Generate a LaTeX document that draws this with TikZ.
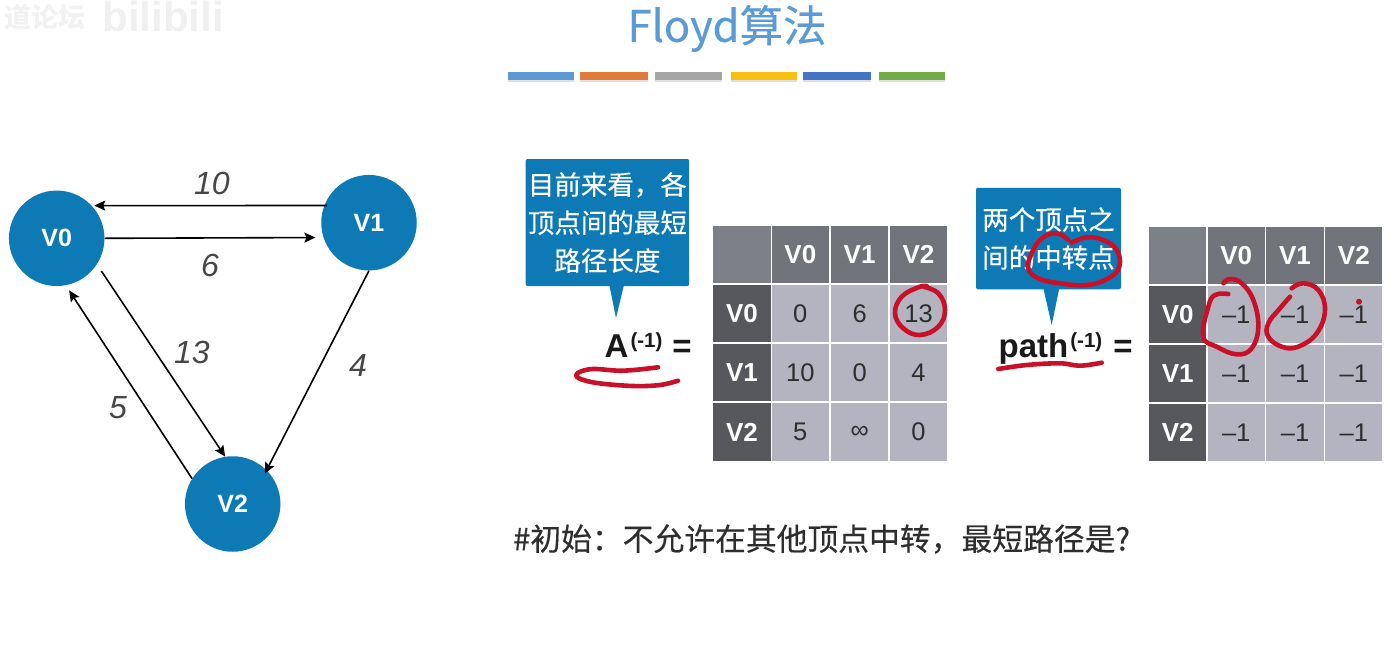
\documentclass[tikz,border=0pt]{standalone}
\usepackage{fontspec}
\setmainfont{Liberation Sans}
\newfontfamily\cjk{Noto Sans CJK SC}
\newfontfamily\cjkmed[FakeBold=0.35]{Noto Sans CJK SC}
\usetikzlibrary{arrows.meta,shadows}
\definecolor{tipblue}{RGB}{14,122,181}
\definecolor{inkred}{RGB}{200,16,40}
\definecolor{cornergray}{RGB}{124,128,135}
\definecolor{headgray}{RGB}{114,116,124}
\definecolor{rowgray}{RGB}{87,88,94}
\definecolor{bodygray}{RGB}{180,179,192}
\definecolor{barblue}{RGB}{91,155,213}
\definecolor{barorange}{RGB}{224,123,58}
\definecolor{bargray}{RGB}{165,165,165}
\definecolor{baryellow}{RGB}{248,192,16}
\definecolor{bardeep}{RGB}{68,114,196}
\definecolor{bargreen}{RGB}{112,173,71}
\tikzset{
	vtx/.style={circle,minimum size=95.5pt,inner sep=0pt,fill=tipblue,text=white,font=\fontsize{25}{25}\selectfont\bfseries},
	edge/.style={line width=1.6pt,-{Stealth[length=11pt,width=10pt,inset=2pt]}},
	wgt/.style={inner sep=0pt,text=black!72,font=\fontsize{32}{32}\selectfont\itshape},
	bar/.style 2 args={minimum width=#1,minimum height=8pt,inner sep=0pt,fill=#2,drop shadow={shadow xshift=0pt,shadow yshift=-2pt,opacity=.25}},
	tip/.style={rounded corners=2pt,fill=tipblue,text=white,align=center,inner sep=0pt,font=\cjkmed\fontsize{26.5}{38}\selectfont},
	eqn/.style={anchor=base west,inner sep=0pt,text=black!90,font=\fontsize{33}{33}\selectfont\bfseries},
	cell/.style={minimum width=57.2pt,minimum height=57.5pt,inner sep=0pt},
	ccell/.style={cell,fill=cornergray},
	hcell/.style={cell,fill=headgray,text=white,font=\fontsize{26}{26}\selectfont\bfseries},
	rcell/.style={cell,fill=rowgray,text=white,font=\fontsize{26}{26}\selectfont\bfseries},
	bcell/.style={cell,fill=bodygray,text=black!82,font=\fontsize{25.5}{25.5}\selectfont},
	ink/.style={draw=inkred,line width=4.6pt,line cap=round,line join=round}
}
\newcommand{\supminus}{\raisebox{10pt}{\fontsize{20.5}{20.5}\selectfont(-1)}}
\begin{document}
\begin{tikzpicture}[x=1pt,y=-1pt]
	\useasboundingbox (0,0) rectangle (1392,651);

	\node [inner sep=0pt,text=black!5,font=\cjk\fontsize{27}{27}\selectfont\bfseries] (mark1) at (45,17) {道论坛};
	\node [inner sep=0pt,text=black!6,font=\fontsize{42}{42}\selectfont\bfseries] (mark2) at (163,16) {bilibili};

	\node [inner sep=0pt,text=barblue,font=\cjkmed\fontsize{43.5}{43.5}\selectfont] (title) at (727,28.5) {Floyd算法};
	\node [bar={66pt}{barblue}] (bar1) at (541.3,76) {};
	\node [bar={67.5pt}{barorange}] (bar2) at (613.8,76) {};
	\node [bar={67.5pt}{bargray}] (bar3) at (688.6,76) {};
	\node [bar={66.5pt}{baryellow}] (bar4) at (764,76) {};
	\node [bar={67.5pt}{bardeep}] (bar5) at (837,76) {};
	\node [bar={66pt}{bargreen}] (bar6) at (912.3,76) {};

	\node [vtx] (V0) at (56.7,238.3) {V0};
	\node [vtx] (V1) at (369,222.7) {V1};
	\node [vtx] (V2) at (232.7,504) {V2};

	\draw [edge,shorten <=-3pt,shorten >=2.5pt] (V1.159) -- (V0.43);
	\draw [edge,shorten >=8pt] (V0.0) -- (V1.198);
	\draw [edge,shorten <=8pt] (V0.327.6) -- (V2.99);
	\draw [edge,shorten >=6pt] (V2.148) -- (V0.281);
	\draw [edge,shorten >=-4pt] (V1.270) -- (V2.45);

	\node [wgt] (w10) at (212,183) {10};
	\node [wgt] (w6) at (210,265) {6};
	\node [wgt] (w13) at (192,352) {13};
	\node [wgt] (w4) at (358,365) {4};
	\node [wgt] (w5) at (118,408) {5};

	\fill [tipblue] (609.3,285) -- (624,285) -- (616,318) -- cycle;
	\node [tip,minimum width=163.5pt,minimum height=127pt] (tipa) at (607.4,222.5) {目前来看，各\\顶点间的最短\\路径长度};
	\fill [tipblue] (1043.3,288) -- (1059.3,288) -- (1051.7,325) -- cycle;
	\node [tip,minimum width=145pt,minimum height=101.5pt] (tipb) at (1048.5,238.5) {两个顶点之\\间的中转点};

	\node [eqn] (eqa) at (604.5,357) {A\kern2pt\supminus\kern10pt=};
	\node [eqn] (eqb) at (998.5,357) {path\kern2pt\supminus\kern11pt=};

	\node [ccell] (a00) at (742,254.6) {};
	\node [hcell] (a01) at (800.3,254.6) {V0};
	\node [hcell] (a02) at (859.6,254.6) {V1};
	\node [hcell] (a03) at (918.5,254.6) {V2};
	\node [rcell] (a10) at (742,313.3) {V0};
	\node [bcell] (a11) at (800.3,313.3) {0};
	\node [bcell] (a12) at (859.6,313.3) {6};
	\node [bcell] (a13) at (918.5,313.3) {13};
	\node [rcell] (a20) at (742,372.5) {V1};
	\node [bcell] (a21) at (800.3,372.5) {10};
	\node [bcell] (a22) at (859.6,372.5) {0};
	\node [bcell] (a23) at (918.5,372.5) {4};
	\node [rcell] (a30) at (742,432) {V2};
	\node [bcell] (a31) at (800.3,432) {5};
	\node [bcell] (a32) at (859.6,432) {∞};
	\node [bcell] (a33) at (918.5,432) {0};

	\node [ccell] (p00) at (1177.7,255.5) {};
	\node [hcell] (p01) at (1236.2,255.5) {V0};
	\node [hcell] (p02) at (1295,255.5) {V1};
	\node [hcell] (p03) at (1353.8,255.5) {V2};
	\node [rcell] (p10) at (1177.7,314.5) {V0};
	\node [bcell] (p11) at (1236.2,314.5) {–1};
	\node [bcell] (p12) at (1295,314.5) {–1};
	\node [bcell] (p13) at (1353.8,314.5) {–1};
	\node [rcell] (p20) at (1177.7,373.3) {V1};
	\node [bcell] (p21) at (1236.2,373.3) {–1};
	\node [bcell] (p22) at (1295,373.3) {–1};
	\node [bcell] (p23) at (1353.8,373.3) {–1};
	\node [rcell] (p30) at (1177.7,432.3) {V2};
	\node [bcell] (p31) at (1236.2,432.3) {–1};
	\node [bcell] (p32) at (1295,432.3) {–1};
	\node [bcell] (p33) at (1353.8,432.3) {–1};

	\node [anchor=west,inner sep=0pt,text=black!82,font=\cjkmed\fontsize{30.8}{30.8}\selectfont] (note) at (513,539) {\#初始：不允许在其他顶点中转，最短路径是?};

	\draw [ink] plot [smooth,tension=.6] coordinates {(658,367.3) (623,370.7) (593,369) (578.3,372.7) (578.5,378) (597,383) (633,386) (660,385) (678,380.7)};
	\draw [ink] plot [smooth,tension=.7] coordinates {(923.3,286.7) (938.3,293.3) (945,310) (938.3,326.7) (920,335) (903.3,328.3) (895,313.3) (901.7,296.7) (918.3,287.3) (926.7,286)};
	\draw [ink] plot [smooth,tension=.7] coordinates {(1068.3,240) (1056.7,233.3) (1041.7,238.3) (1031.7,253.3) (1028.3,268.3) (1038.3,278.3) (1060,283.3) (1086.7,285) (1108.3,278.3) (1119.3,266.7) (1116.7,250) (1103.3,240) (1086.7,237.3) (1071.7,242.7)};
	\draw [ink] plot [smooth,tension=.6] coordinates {(998.3,369) (1026.7,365) (1060,363.3) (1080,365.7) (1101.7,362.7)};
	\draw [ink] plot [smooth,tension=.7] coordinates {(1228.3,294) (1215,295) (1208.3,306.7) (1203.3,336.7) (1216.7,346.7) (1236.7,354.3) (1251.7,348.3) (1258.3,326.7) (1253.3,300) (1241.7,283.3) (1230,279) (1223.3,283.3)};
	\draw [ink] plot [smooth,tension=.7] coordinates {(1291.7,288.3) (1303,283.3) (1318.3,290) (1325,310) (1316.7,333.3) (1298.3,346.7) (1281.7,346.7) (1268.3,336.7) (1268.3,323.3) (1280,308.3) (1290,296.7)};
	\fill [inkred] (1359,301.7) circle (3);
\end{tikzpicture}
\end{document}
